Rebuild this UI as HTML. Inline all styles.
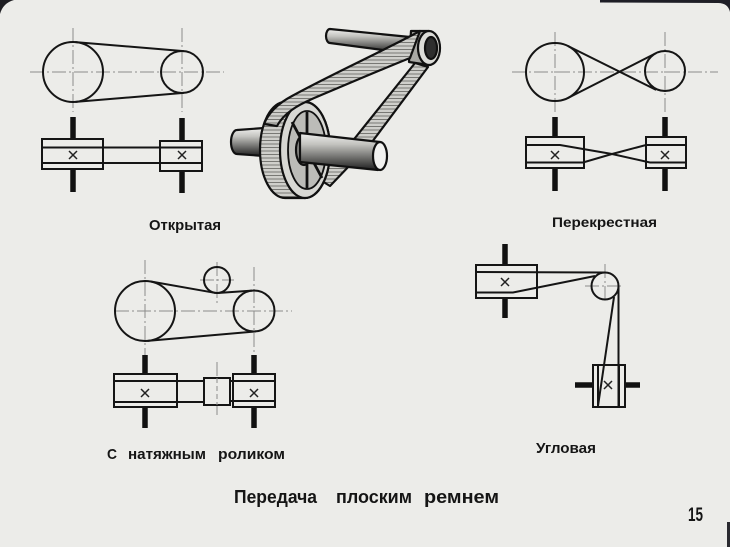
<!DOCTYPE html>
<html><head><meta charset="utf-8"><style>
html,body{margin:0;padding:0;background:#ecece9;}
svg{display:block;}
text{font-family:"Liberation Sans","DejaVu Sans",sans-serif;font-weight:bold;fill:#151515;}
</style></head><body>
<svg width="730" height="547" viewBox="0 0 730 547" xmlns="http://www.w3.org/2000/svg">
<defs>
<linearGradient id="sg" x1="0" y1="0" x2="0" y2="1">
<stop offset="0" stop-color="#f0f0ee"/><stop offset="0.3" stop-color="#c4c4c0"/><stop offset="0.7" stop-color="#666664"/><stop offset="1" stop-color="#202020"/>
</linearGradient>
<pattern id="hatch" width="4" height="3.5" patternUnits="userSpaceOnUse">
<rect width="4" height="3.5" fill="#cfcfcb"/><line x1="0" y1="0.5" x2="4" y2="0.5" stroke="#6e6e6a" stroke-width="0.9"/>
</pattern>
</defs>
<rect width="730" height="547" fill="#ecece9"/>
<!-- vignette corners -->
<path d="M0,0 H14 Q3,3 0,14 Z" fill="#1e1e22"/>
<path d="M600,0 H730 V12 Q728,3 718,3 L600,2.5 Z" fill="#1e1e26"/>
<rect x="727" y="522" width="3" height="25" fill="#2a2a30"/>

<g stroke="#8c8c8a" stroke-width="1" fill="none" stroke-dasharray="14,3,2,3">
<!-- open -->
<line x1="73" y1="28" x2="73" y2="112"/><line x1="182" y1="28" x2="182" y2="112"/>
<line x1="30" y1="72" x2="224" y2="72"/>
<!-- crossed -->
<line x1="555" y1="32" x2="555" y2="112"/><line x1="665" y1="32" x2="665" y2="112"/>
<line x1="512" y1="72" x2="718" y2="72"/>
<!-- tension -->
<line x1="145" y1="260" x2="145" y2="355"/><line x1="254" y1="267" x2="254" y2="355"/>
<line x1="115" y1="311" x2="292" y2="311"/>
<line x1="217" y1="262" x2="217" y2="303"/><line x1="200" y1="280" x2="234" y2="280"/>
<line x1="217" y1="362" x2="217" y2="415"/>
<!-- angular -->
<line x1="585" y1="286" x2="623" y2="286"/><line x1="605" y1="264" x2="605" y2="301"/>
</g>

<g stroke="#151515" stroke-width="2" fill="none">
<!-- OPEN top view -->
<circle cx="73" cy="72" r="30"/><circle cx="182" cy="72" r="21"/>
<line x1="75.5" y1="42.1" x2="183.7" y2="51.1"/>
<line x1="75.5" y1="101.9" x2="183.7" y2="92.9"/>
<!-- CROSSED top view -->
<circle cx="555" cy="72" r="29"/><circle cx="665" cy="71" r="20"/>
<line x1="567.9" y1="46" x2="656.1" y2="89.9"/>
<line x1="567.9" y1="98" x2="656.1" y2="53.1"/>
<!-- TENSION top view -->
<circle cx="145" cy="311" r="30"/><circle cx="254" cy="311" r="20.5"/><circle cx="217" cy="280" r="13"/>
<path d="M150.1,281.4 L214.8,292.8 Q217,293.2 219.5,292.9 L252,290.6"/>
<line x1="147.6" y1="340.9" x2="255.8" y2="331.4"/>
</g>

<!-- shafts -->
<g stroke="#111" stroke-width="5.5">
<line x1="73" y1="117" x2="73" y2="192"/><line x1="182" y1="118" x2="182" y2="193"/>
<line x1="555" y1="117" x2="555" y2="191"/><line x1="665" y1="117" x2="665" y2="191"/>
<line x1="145" y1="355" x2="145" y2="428"/><line x1="254" y1="355" x2="254" y2="428"/>
<line x1="505" y1="244" x2="505" y2="318"/>
<line x1="575" y1="385" x2="640" y2="385"/>
</g>

<g stroke="#151515" stroke-width="2" fill="#ecece9">
<!-- OPEN side -->
<rect x="42" y="139" width="61" height="30"/>
<rect x="160" y="141" width="42" height="30"/>
<line x1="42" y1="147.5" x2="202" y2="147.5"/><line x1="42" y1="163" x2="202" y2="163"/>
<!-- CROSSED side -->
<rect x="526" y="137" width="58" height="31"/>
<rect x="646" y="137" width="40" height="31"/>
<path fill="none" d="M526,145 H560 L612,154 L650,162.5 H686"/>
<path fill="none" d="M526,162.5 H583 L612,154 L646,145 H686"/>
<!-- TENSION side -->
<rect x="114" y="374" width="63" height="33"/>
<rect x="233" y="374" width="42" height="33"/>
<line x1="114" y1="381" x2="204" y2="381"/><line x1="114" y1="402" x2="204" y2="402"/>
<line x1="230" y1="381" x2="275" y2="381"/><line x1="230" y1="401" x2="275" y2="401"/>
<rect x="204" y="378" width="26" height="27"/>
<!-- ANGULAR -->
<rect x="476" y="265" width="61" height="33"/>
<line x1="476" y1="272" x2="605" y2="272.5"/>
<path fill="none" d="M476,292.5 H513 L595,276"/>
<circle cx="605" cy="286" r="13.5" fill="none"/>
<rect x="593" y="365" width="32" height="42"/>
<line x1="598" y1="365" x2="598" y2="407"/><line x1="619" y1="365" x2="619" y2="407"/>
<line x1="618.5" y1="286" x2="618.5" y2="407"/>
<line x1="614" y1="297" x2="598" y2="406"/>
</g>
<line x1="217" y1="378" x2="217" y2="405" stroke="#8c8c8a" stroke-width="1" stroke-dasharray="5,3"/>

<!-- X marks -->
<g stroke="#222" stroke-width="1.5">
<path d="M69,151 L77,159 M77,151 L69,159"/>
<path d="M178,151 L186,159 M186,151 L178,159"/>
<path d="M551,151 L559,159 M559,151 L551,159"/>
<path d="M661,151 L669,159 M669,151 L661,159"/>
<path d="M141,389 L149,397 M149,389 L141,397"/>
<path d="M250,389 L258,397 M258,389 L250,397"/>
<path d="M501,278 L509,286 M509,278 L501,286"/>
<path d="M604,381 L612,389 M612,381 L604,389"/>
</g>

<!-- 3D picture -->
<g stroke="#111" stroke-width="2.2" stroke-linejoin="round">
<!-- top shaft -->
<path d="M330,29 L410,37 L406,53 L330,43 A4,7 0 0 1 330,29 Z" fill="url(#sg)"/>
<!-- small pulley body -->
<path d="M411,31 L429,31 L429,65 L409,62 Z" fill="#a8a8a4"/>
<ellipse cx="429" cy="48" rx="11" ry="17" fill="#dcdcd8"/>
<ellipse cx="431" cy="48" rx="6" ry="11" fill="#2e2e2e"/>
<!-- lower belt strand -->
<path d="M415,63 L428,67 L372,142 L330,186 L317,178 L355,138 Z" fill="url(#hatch)"/>
<!-- left stub of main shaft -->
<path d="M237,130 L264,128 L264,156 L237,154 A6,12 0 0 1 237,130 Z" fill="url(#sg)"/>
<!-- wheel rim band -->
<path d="M285,102 L305,102 A25,48 0 0 1 305,198 L285,198 A25,48 0 0 1 285,102 Z" fill="url(#hatch)"/>
<!-- front face -->
<ellipse cx="305" cy="150" rx="25" ry="48" fill="#d8d8d4"/>
<ellipse cx="307" cy="150" rx="19" ry="39" fill="#bcbcb8" stroke-width="1.8"/>
<g stroke-width="2.8">
<line x1="307" y1="150" x2="307" y2="112"/><line x1="307" y1="150" x2="307" y2="188"/>
<line x1="307" y1="150" x2="292" y2="122"/><line x1="307" y1="150" x2="322" y2="178"/>
</g>
<ellipse cx="304" cy="150" rx="8" ry="15" fill="#8a8a86"/>
<!-- upper belt strand -->
<path d="M420,31 C385,50 330,75 292,96 C277,104 268,114 264,124 L277,126 C284,113 298,105 312,99 C345,85 380,70 410,58 Z" fill="url(#hatch)"/>
<!-- main right shaft -->
<path d="M300,133 L380,142 L378,170 L300,162 Z" fill="url(#sg)"/>
<ellipse cx="380" cy="156" rx="7" ry="14" fill="#f2f2f0"/>
</g>

<!-- labels -->
<text x="149" y="230" font-size="15" textLength="72" lengthAdjust="spacingAndGlyphs">Открытая</text>
<text x="552" y="227" font-size="14" textLength="105" lengthAdjust="spacingAndGlyphs">Перекрестная</text>
<text x="107" y="459" font-size="15" textLength="10" lengthAdjust="spacingAndGlyphs">С</text>
<text x="128" y="459" font-size="15" textLength="78" lengthAdjust="spacingAndGlyphs">натяжным</text>
<text x="218" y="459" font-size="15" textLength="67" lengthAdjust="spacingAndGlyphs">роликом</text>
<text x="536" y="453" font-size="15" textLength="60" lengthAdjust="spacingAndGlyphs">Угловая</text>
<text x="234" y="503" font-size="18" textLength="83" lengthAdjust="spacingAndGlyphs">Передача</text>
<text x="336" y="503" font-size="18" textLength="76" lengthAdjust="spacingAndGlyphs">плоским</text>
<text x="424" y="503" font-size="18" textLength="75" lengthAdjust="spacingAndGlyphs">ремнем</text>
<text x="688" y="521" font-size="19" textLength="15" lengthAdjust="spacingAndGlyphs">15</text>
</svg>
</body></html>
